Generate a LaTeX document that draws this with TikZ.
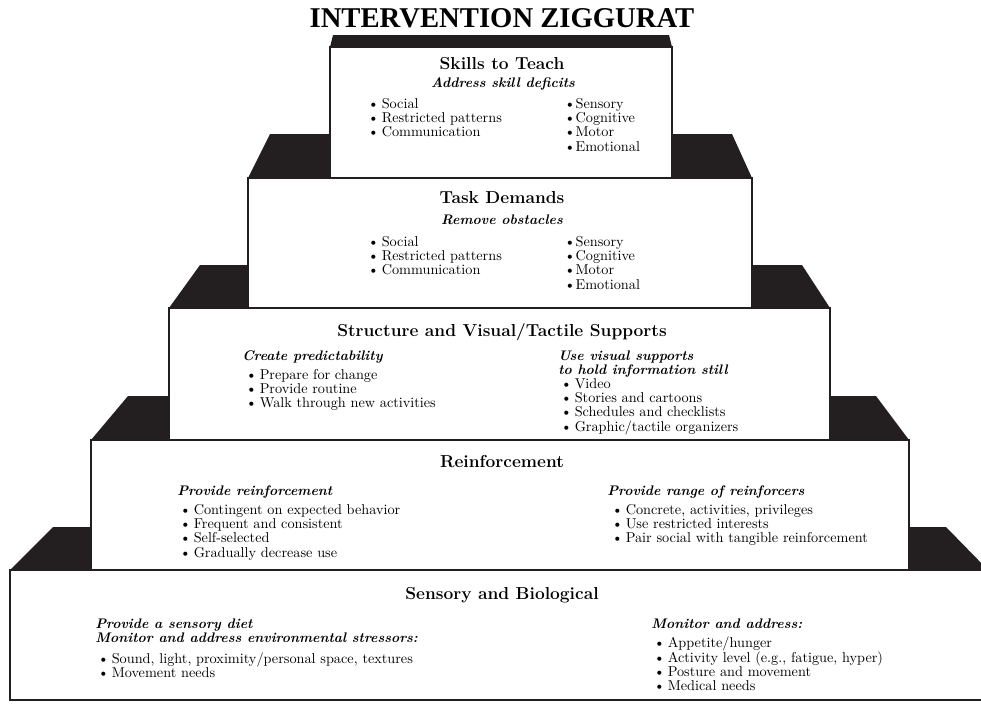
\documentclass[tikz,border=0pt]{standalone}
\usepackage{fontspec}
\newfontfamily\zigtitlefont{Liberation Serif}
\usepackage{xcolor}
\usepackage{tikz}

\definecolor{zigblack}{RGB}{35,31,32}
\newcommand{\zb}{\makebox[10.5pt][l]{\textbullet}}
\newcommand{\zbs}{\makebox[8.5pt][l]{\textbullet}}
\newcommand{\zlines}[1]{\begin{tabular}[t]{@{}l@{}}#1\end{tabular}}

\begin{document}
\begin{tikzpicture}[x=0.75pt,y=0.75pt,yscale=-1,xscale=1,
  face/.style={fill=zigblack},
  front/.style={draw=zigblack,fill=white,line width=1.2pt},
  zhead/.style={anchor=base,inner sep=0pt,font=\fontsize{13}{15}\selectfont\bfseries},
  zsub/.style={anchor=base west,inner sep=0pt,font=\fontsize{10.4}{10.8}\selectfont\bfseries\itshape},
  zlist/.style={anchor=base west,inner sep=0pt,font=\fontsize{10.7}{10.8}\selectfont}]
\useasboundingbox (0,0) rectangle (981,703);
\fill [white] (0,0) rectangle (981,703);
\clip (0,0) rectangle (981,703);

%Shape: Sensory and Biological
\fill [face] (10,570) -- (53,527) -- (946,527) -- (988,570) -- cycle ;
\draw [front] (10,570) rectangle (988,700) ;
%Shape: Reinforcement
\fill [face] (91,440) -- (128,396) -- (876,396) -- (909,440) -- cycle ;
\draw [front] (91,440) rectangle (909,570) ;
%Shape: Structure
\fill [face] (169,308) -- (200,265) -- (802,265) -- (830,308) -- cycle ;
\draw [front] (169,308) rectangle (830,440) ;
%Shape: Task Demands
\fill [face] (248,178) -- (270,134) -- (732,134) -- (752,178) -- cycle ;
\draw [front] (248,178) rectangle (752,308) ;
%Shape: Skills to Teach
\fill [face] (330,47) -- (333,35) -- (669,35) -- (672,47) -- cycle ;
\draw [front] (330,47) rectangle (672,178) ;

% Text Node
\draw (502,27) node (title) [anchor=base][inner sep=0pt]  [font=\zigtitlefont\fontsize{21.5}{24}\selectfont\bfseries]  {INTERVENTION ZIGGURAT};

% Text Node
\draw (502,69) node (skills) [zhead]  {Skills to Teach};
% Text Node
\draw (503,87) node (skillsSub) [zsub,anchor=base]  {Address skill deficits};
% Text Node
\draw (367.5,108) node (skillsL) [zlist]  {\zlines{\zb Social\\\zb Restricted patterns\\\zb Communication}};
% Text Node
\draw (564,108) node (skillsR) [zlist]  {\zlines{\zbs Sensory\\\zbs Cognitive\\\zbs Motor\\\zbs Emotional}};

% Text Node
\draw (502,203) node (task) [zhead]  {Task Demands};
% Text Node
\draw (502,224) node (taskSub) [zsub,anchor=base]  {Remove obstacles};
% Text Node
\draw (367.5,246) node (taskL) [zlist]  {\zlines{\zb Social\\\zb Restricted patterns\\\zb Communication}};
% Text Node
\draw (564,246) node (taskR) [zlist]  {\zlines{\zbs Sensory\\\zbs Cognitive\\\zbs Motor\\\zbs Emotional}};

% Text Node
\draw (502,336) node (struct) [zhead]  {Structure and Visual/Tactile Supports};
% Text Node
\draw (242,360) node (structSubL) [zsub]  {Create predictability};
% Text Node
\draw (245.5,379) node (structL) [zlist]  {\zlines{\zb Prepare for change\\\zb Provide routine\\\zb Walk through new activities}};
% Text Node
\draw (558,360) node (structSubR) [zsub]  {\zlines{Use visual supports\\to hold information still}};
% Text Node
\draw (560.5,388) node (structR) [zlist]  {\zlines{\zb Video\\\zb Stories and cartoons\\\zb Schedules and checklists\\\zb Graphic/tactile organizers}};

% Text Node
\draw (502,467) node (reinf) [zhead]  {Reinforcement};
% Text Node
\draw (177,495) node (reinfSubL) [zsub]  {Provide reinforcement};
% Text Node
\draw (179.5,514) node (reinfL) [zlist]  {\zlines{\zb Contingent on expected behavior\\\zb Frequent and consistent\\\zb Self-selected\\\zb Gradually decrease use}};
% Text Node
\draw (607,495) node (reinfSubR) [zsub]  {Provide range of reinforcers};
% Text Node
\draw (611.5,514) node (reinfR) [zlist]  {\zlines{\zb Concrete, activities, privileges\\\zb Use restricted interests\\\zb Pair social with tangible reinforcement}};

% Text Node
\draw (502,599) node (sens) [zhead]  {Sensory and Biological};
% Text Node
\draw (95,628) node (sensSubL) [zsub]  {\zlines{Provide a sensory diet\\Monitor and address environmental stressors:}};
% Text Node
\draw (97.5,663) node (sensL) [zlist]  {\zlines{\zb Sound, light, proximity/personal space, textures\\\zb Movement needs}};
% Text Node
\draw (651,628) node (sensSubR) [zsub]  {Monitor and address:};
% Text Node
\draw (653.5,647) node (sensR) [zlist]  {\zlines{\zb Appetite/hunger\\\zb Activity level (e.g., fatigue, hyper)\\\zb Posture and movement\\\zb Medical needs}};
\end{tikzpicture}
\end{document}
